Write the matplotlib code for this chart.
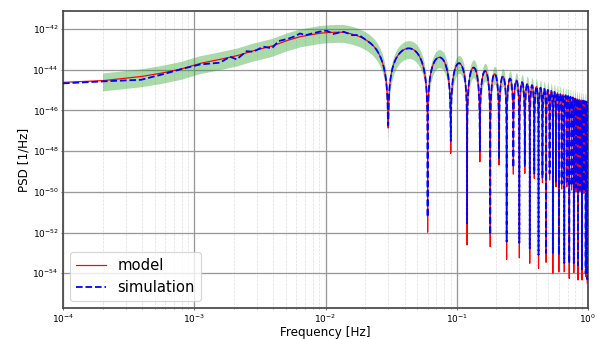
import numpy as np
import matplotlib.pyplot as plt

# spacing of the notches in the transfer function (Hz)
null_spacing = 0.03

# smooth part of the model spectrum (log10 PSD) before the notches are applied
base_freq = [1e-4, 2e-4, 3.9e-4, 5.5e-4, 7.8e-4, 1.1e-3, 1.57e-3, 2.1e-3, 2.8e-3,
             3.9e-3, 5.06e-3, 6.4e-3, 7.6e-3, 9.1e-3, 1.15e-2, 1.37e-2, 1.94e-2,
             2.45e-2, 4.5e-2, 1.0]
base_logpsd = [-44.62, -44.54, -44.34, -44.18, -43.98, -43.69, -43.49, -43.31, -43.06,
               -42.82, -42.53, -42.31, -42.20, -42.07, -41.94, -41.84, -41.75,
               -41.68, -41.62, -41.55]

# depth of each notch (log10 PSD), n = 1..33
model_null_depth = [-46.86, -51.98, -48.11, -52.61, -48.52, -52.70, -48.68, -53.32,
                    -49.13, -53.24, -49.09, -53.51, -49.34, -53.76, -49.55, -53.46,
                    -49.42, -54.00, -49.75, -53.93, -49.86, -53.93, -49.75, -54.25,
                    -49.91, -53.97, -49.99, -54.33, -49.99, -54.33, -50.07, -54.17,
                    -54.50]
sim_null_depth = [-46.72, -51.24, -47.50, -51.55, -48.00, -52.10, -48.40, -52.45,
                  -48.80, -52.50, -48.76, -52.78, -49.10, -53.10, -49.30, -53.00,
                  -49.10, -53.00, -49.50, -53.10, -49.60, -53.50, -49.50, -53.50,
                  -49.70, -53.50, -49.80, -53.60, -49.90, -53.80, -49.95, -54.00,
                  -54.30]

# deviation of the simulated PSD from the model (decades)
sim_dev_freq = [1e-4, 2e-4, 3.9e-4, 5.5e-4, 7.8e-4, 1.1e-3, 1.32e-3, 1.57e-3, 1.87e-3,
                2.1e-3, 2.5e-3, 2.8e-3, 3.36e-3, 3.9e-3, 4.37e-3, 5.06e-3, 5.7e-3,
                6.4e-3, 7.0e-3, 7.6e-3, 9.1e-3, 1.02e-2, 1.15e-2, 1.37e-2, 1.6e-2,
                1.8e-2, 2.0e-2, 1.0]
sim_dev = [-0.05, -0.03, -0.16, -0.08, 0.0, -0.05, -0.11, -0.16, 0.03,
           -0.18, 0.08, -0.05, 0.08, -0.11, 0.13, 0.07, 0.08,
           0.16, 0.02, 0.05, 0.08, 0.10, -0.08, 0.03, -0.05,
           0.06, 0.0, 0.0]

# confidence band around the model (decades)
band_up = 0.38
band_down = 0.50
band_start = 2e-4

freq = np.geomspace(1e-4, 1, 20000)
freq = np.union1d(freq, null_spacing * np.arange(1, len(model_null_depth) + 1))
x = freq / null_spacing
log_sinc = np.log10(np.maximum(np.sinc(x) ** 2, 1e-300))
base = np.interp(np.log10(freq), np.log10(base_freq), base_logpsd)
n = np.rint(x).astype(int)
idx = np.clip(n - 1, 0, len(model_null_depth) - 1)

model_floor = np.where(n >= 1, np.array(model_null_depth)[idx], -np.inf)
sim_floor = np.where(n >= 1, np.array(sim_null_depth)[idx], -np.inf)
model = np.maximum(base + log_sinc, model_floor)
dev = np.interp(np.log10(freq), np.log10(sim_dev_freq), sim_dev)
sim = np.maximum(base + log_sinc + dev, sim_floor)

fig = plt.figure(figsize=(7.0, 3.942), dpi=86)
ax = fig.add_axes([0.1047, 0.0906, 0.8720, 0.8778])

m = freq >= band_start
ax.fill_between(freq[m], 10 ** (model[m] + band_up), 10 ** (model[m] - band_down),
                color='tab:green', alpha=0.4, lw=0, zorder=1)
ax.loglog(freq, 10 ** model, 'r-', lw=1.0, label='model', zorder=3)
ax.loglog(freq, 10 ** sim, 'b--', lw=1.5, label='simulation', zorder=4)

ax.set_xlim(1e-4, 1)
ax.set_ylim(10 ** -55.72, 10 ** -41.1)
ax.set_yticks(10.0 ** np.arange(-54, -41, 2))
ax.tick_params(which='major', labelsize=7.5, length=2, pad=1.5, color='0.4')
ax.tick_params(which='minor', length=1.2, color='0.4')
ax.grid(which='major', color='0.6', lw=1.1, zorder=0)
ax.grid(which='minor', axis='x', color='0.88', ls='--', lw=0.6, zorder=0)
ax.set_axisbelow(True)
for s in ax.spines.values():
    s.set_color('0.3')
    s.set_linewidth(1.5)

ax.set_xlabel('Frequency [Hz]', fontsize=10, labelpad=1)
ax.set_ylabel('PSD [1/Hz]', fontsize=10, labelpad=2)
ax.legend(loc='lower left', fontsize=12.3)

fig.savefig('out.png', dpi=86)
